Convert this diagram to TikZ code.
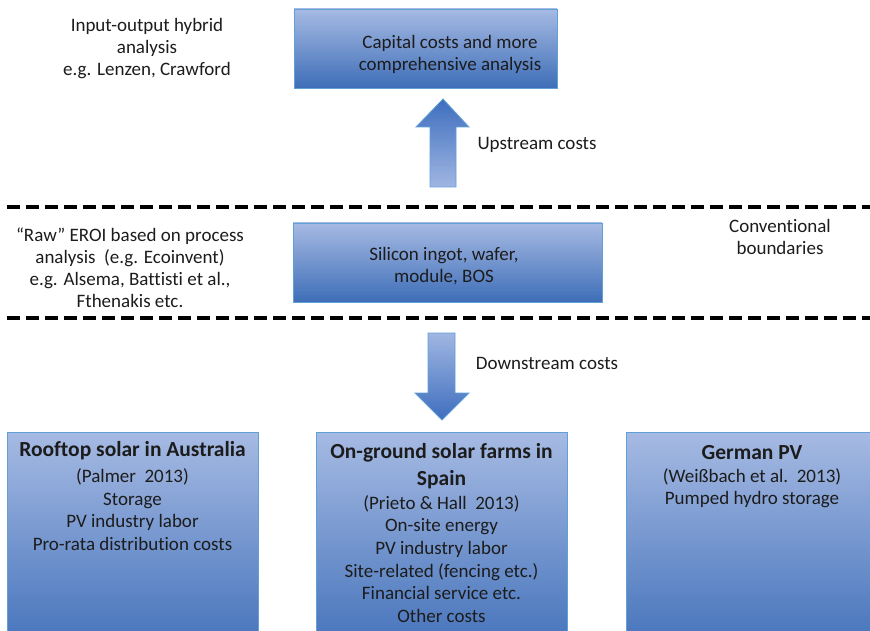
\documentclass[tikz,border=0pt]{standalone}
\usepackage{fontspec}
\setmainfont{Carlito}[Ligatures=NoCommon]
\definecolor{boxtop}{RGB}{166,186,227}
\definecolor{boxbot}{RGB}{62,110,184}
\definecolor{edgeblue}{RGB}{96,160,215}
\definecolor{arrowdark}{RGB}{62,110,190}
\definecolor{arrowlight}{RGB}{160,182,226}
\definecolor{textgray}{RGB}{28,28,28}
\begin{document}
\begin{tikzpicture}[x=1pt,y=-1pt,
  txt/.style={inner sep=0pt, align=center, text=textgray,
    font=\fontsize{19}{22}\selectfont},
  bodytxt/.style={inner sep=0pt, align=center, text=textgray, anchor=north,
    font=\fontsize{19}{22.7}\selectfont},
  panel/.style={draw=edgeblue, line width=0.9pt, top color=boxtop,
    bottom color=boxbot, inner sep=0pt},
  boundary/.style={draw=black, line width=3.6pt, dash pattern=on 12.5pt off 6.5pt},
  blockarrow/.style={draw=edgeblue, line width=0.8pt},
]
\newcommand{\ttl}[1]{{\bfseries\fontsize{21.5}{22}\selectfont #1}}
% page frame
\useasboundingbox (0,0) rectangle (870,631);

% top level: hybrid analysis
\node[txt] (hybrid) at (147,48.5) {Input-output hybrid\\analysis\\e.g. Lenzen, Crawford};
\node[panel, minimum width=263pt, minimum height=79pt] (capital) at (425.5,48.5) {};
\node[txt] (capitaltxt) at (450,54) {Capital costs and more\\comprehensive analysis};

% boundaries
\coordinate (b1w) at (7,207);  \coordinate (b1e) at (870,207);
\coordinate (b2w) at (7,318);  \coordinate (b2e) at (870,318);
\draw[boundary] (b1w) -- (b1e);
\draw[boundary] (b2w) -- (b2e);

% process level
\node[txt] (raw) at (130,268) {“Raw” EROI based on process\\analysis\ \ (e.g. Ecoinvent)\\e.g. Alsema, Battisti et al.,\\Fthenakis etc.};
\node[panel, minimum width=309pt, minimum height=79pt] (silicon) at (447.5,262.5) {};
\node[txt] (silicontxt) at (444,266.5) {Silicon ingot, wafer,\\module, BOS};
\node[txt] (conv) at (780,236.5) {Conventional\\boundaries};

% upstream arrow
\shade[blockarrow, top color=arrowdark, bottom color=arrowlight]
  (443,99) -- (469,127) -- (456,127) -- (456,187) -- (430,187) -- (430,127) -- (416,127) -- cycle;
\node[txt] (up) at (537,145) {Upstream costs};

% downstream arrow
\shade[blockarrow, top color=arrowlight, bottom color=arrowdark]
  (428,333) -- (455,333) -- (455,393) -- (469,393) -- (442,420) -- (415,393) -- (428,393) -- cycle;
\node[txt] (down) at (547,363) {Downstream costs};

% case studies
\node[panel, minimum width=251pt, minimum height=230pt, anchor=north] (aus) at (132.5,432) {};
\node[panel, minimum width=251pt, minimum height=230pt, anchor=north] (spain) at (441.5,432) {};
\node[panel, minimum width=251pt, minimum height=230pt, anchor=north] (ger) at (751.5,432) {};

\node[bodytxt] (austxt) at (132.5,441.5) {\ttl{Rooftop solar in Australia}\\[3pt]
  (Palmer\ \ 2013)\\Storage\\PV industry labor\\Pro-rata distribution costs};
\node[bodytxt] (spaintxt) at (441.5,443.5) {\ttl{On-ground solar farms in}\\[4pt]\ttl{Spain}\\[1pt]
  (Prieto \& Hall\ \ 2013)\\On-site energy\\PV industry labor\\Site-related (fencing etc.)\\Financial service etc.\\Other costs};
\node[bodytxt] (gertxt) at (752,445) {\ttl{German PV}\\[0pt]
  (Weißbach et al.\ \ 2013)\\Pumped hydro storage};
\end{tikzpicture}
\end{document}
